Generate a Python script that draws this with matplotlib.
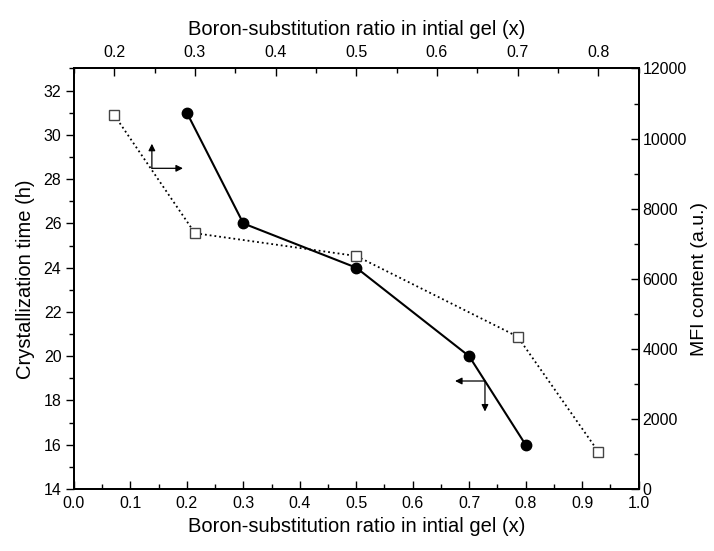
import matplotlib
matplotlib.use("Agg")
import matplotlib.pyplot as plt
from matplotlib.ticker import MultipleLocator

plt.rcParams['font.family'] = ['Liberation Sans', 'DejaVu Sans']

# crystallization time vs boron ratio (bottom / left axes)
ratio = [0.2, 0.3, 0.5, 0.7, 0.8]
cryst_time = [31.0, 26.0, 24.0, 20.0, 16.0]

# MFI content vs boron ratio (top / right axes)
ratio_top = [0.2, 0.3, 0.5, 0.7, 0.8]
mfi_content = [10670, 7300, 6650, 4350, 1070]

xlabel = "Boron-substitution ratio in intial gel (x)"

fig = plt.figure(figsize=(7.14, 5.51), dpi=100)
ax = fig.add_axes([0.1036, 0.1125, 0.7907, 0.7632])

ax.plot(ratio, cryst_time, '-', color='black', lw=1.5,
        marker='o', ms=7.5, mfc='black', mec='black', zorder=3)
ax.set_xlim(0.0, 1.0)
ax.set_ylim(14, 33)
ax.set_xlabel(xlabel, fontsize=14.5, labelpad=4)
ax.set_ylabel("Crystallization time (h)", fontsize=14.5, labelpad=6)
ax.xaxis.set_minor_locator(MultipleLocator(0.05))
ax.yaxis.set_major_locator(MultipleLocator(2))
ax.yaxis.set_minor_locator(MultipleLocator(1))
ax.set_xticks([i / 10 for i in range(11)])
ax.set_xticklabels([f"{i / 10:.1f}" for i in range(11)])
ax.tick_params(axis='x', which='both', direction='in', labelsize=11.5, pad=5)
ax.tick_params(axis='y', which='both', direction='out', labelsize=11.5, pad=3)
ax.tick_params(which='major', length=6, width=1)
ax.tick_params(which='minor', length=3.5, width=1)

# right axis
ax2 = ax.twinx()
ax2.set_ylim(0, 12000)
ax2.yaxis.set_major_locator(MultipleLocator(2000))
ax2.yaxis.set_minor_locator(MultipleLocator(1000))
ax2.set_ylabel("MFI content (a.u.)", fontsize=14, labelpad=3)
ax2.tick_params(axis='y', which='both', direction='in', labelsize=11.5, pad=3)
ax2.tick_params(which='major', length=6, width=1)
ax2.tick_params(which='minor', length=3.5, width=1)

# top axis
ax3 = ax2.twiny()
ax3.set_xlim(0.15, 0.85)
ax3.plot(ratio_top, mfi_content, ':', color='black', lw=1.3,
         marker='s', ms=7, mfc='white', mec='#444444', mew=1.0, zorder=3)
ax3.xaxis.set_major_locator(MultipleLocator(0.1))
ax3.xaxis.set_minor_locator(MultipleLocator(0.05))
ax3.set_xlabel(xlabel, fontsize=14.5, labelpad=7)
ax3.tick_params(axis='x', which='both', direction='in', labelsize=11.5, pad=6)
ax3.tick_params(which='major', length=6, width=1)
ax3.tick_params(which='minor', length=3.5, width=1)

for a in (ax, ax2, ax3):
    for s in a.spines.values():
        s.set_linewidth(1.2)

# arrows pointing to the axes each series belongs to
arr = dict(arrowstyle='-|>', color='black', lw=0.9, mutation_scale=10,
           shrinkA=0, shrinkB=0)
ax.annotate('', xy=(0.138, 29.6), xytext=(0.138, 28.49), arrowprops=arr)
ax.annotate('', xy=(0.193, 28.49), xytext=(0.138, 28.49), arrowprops=arr)
ax.annotate('', xy=(0.675, 18.88), xytext=(0.728, 18.88), arrowprops=arr)
ax.annotate('', xy=(0.728, 17.5), xytext=(0.728, 18.88), arrowprops=arr)

fig.savefig("out.png", dpi=100)
